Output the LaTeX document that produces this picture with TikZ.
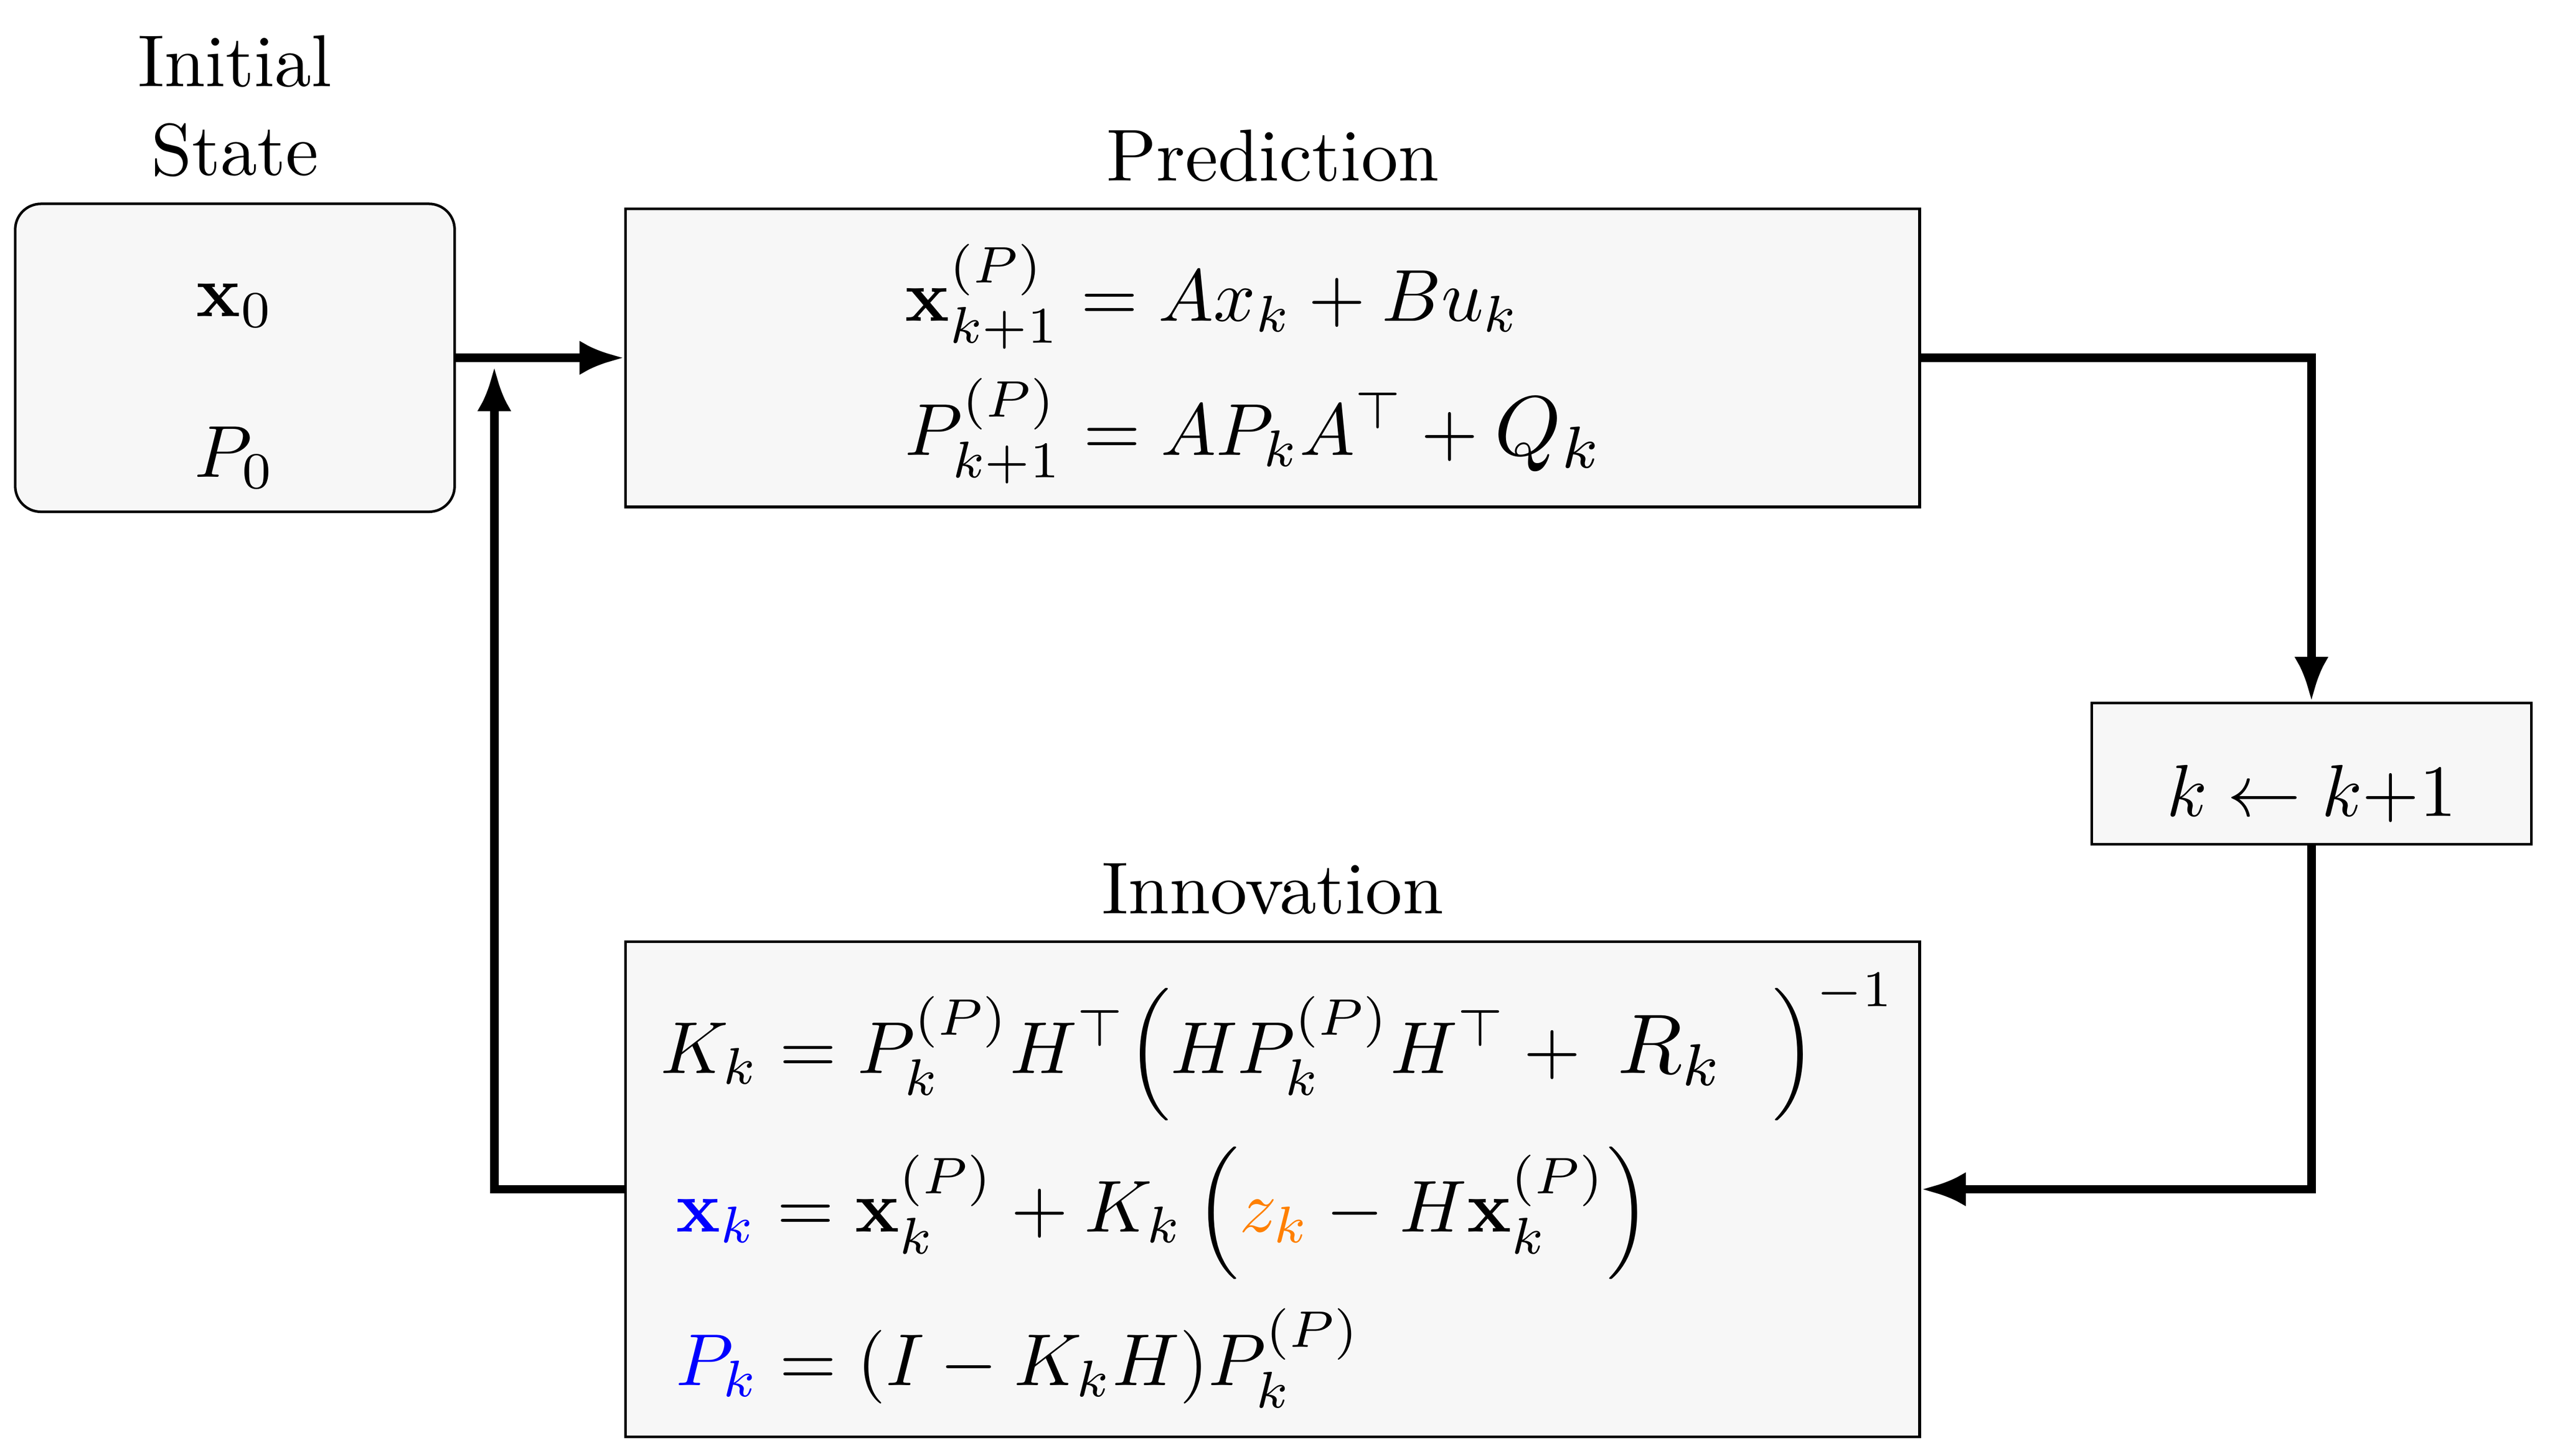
\documentclass[tikz,border=0pt]{standalone}
\usepackage{amsmath}
\usepackage{graphicx}
\usetikzlibrary{positioning,arrows.meta}

\begin{document}
\begin{tikzpicture}[
    block/.style={draw,line width=0.6pt,fill=black!3},
    txt/.style={font=\normalsize,scale=1.72,transform shape},
    title/.style={txt,align=center},
    eq/.style={txt,inner sep=0pt,anchor=base west},
    eqc/.style={txt,inner sep=0pt,anchor=base},
    flow/.style={line width=2pt,-{Latex[length=10.5pt,width=8pt]}}
]
\useasboundingbox (0,0) rectangle (20.95,-11.96);

% Blocks
\node[block,rounded corners=6pt,minimum width=3.61cm,minimum height=2.53cm] (init) at (1.93,-2.94) {};
\node[block,minimum width=10.63cm,minimum height=2.45cm] (pred) at (10.456,-2.94) {};
\node[block,minimum width=3.61cm,minimum height=1.16cm] (incr) at (18.99,-6.356) {};
\node[block,minimum width=10.63cm,minimum height=4.07cm] (innov) at (10.456,-9.771) {};

% Titles
\node[title,above=0pt of init] (initlbl) {Initial\\State};
\node[title,above=0pt of pred] (predlbl) {Prediction};
\node[title,above=0pt of innov] (innovlbl) {Innovation};

% Initial state
\node[eqc] (x0) at (1.93,-2.598) {$\mathbf{x}_0$};
\node[eqc] (p0) at (1.93,-3.921) {$P_0$};

% Prediction step
\node[eq] (xpred) at (7.423,-2.636) {$\mathbf{x}^{(P)}_{k+1} = Ax_k + Bu_k$};
\node[eq] (ppred) at (7.423,-3.741) {$P^{(P)}_{k+1} = AP_kA^\top + \mbox{\scalebox{1.15}{$Q_k$}}$};

% Time update
\node[eqc] (incrlbl) at (18.99,-6.707) {$k \leftarrow k{+}1$};

% Innovation step
\node[eq] (gain) at (5.415,-8.816) {$K_k = P_k^{(P)} H^\top\! \left( H P_k^{(P)} H^\top + \; \mbox{\scalebox{1.15}{$R_k$}} \mkern12mu \right)^{-1}$};
\node[eq] (xupd) at (5.54,-10.119) {${\color{blue}\mathbf{x}_k} = \mathbf{x}_k^{(P)} + K_k \left( {\color{orange}z_k} - H\mathbf{x}_k^{(P)} \right)$};
\node[eq] (pupd) at (5.54,-11.383) {${\color{blue}P_k} = (I - K_kH)P_k^{(P)}$};

% Loop
\coordinate (back) at (4.061,-3.01);
\draw[flow] (init) -- (pred);
\draw[flow] (pred) -| (incr);
\draw[flow] (incr) |- (innov);
\draw[flow] (innov) -| (back);

\end{tikzpicture}
\end{document}
